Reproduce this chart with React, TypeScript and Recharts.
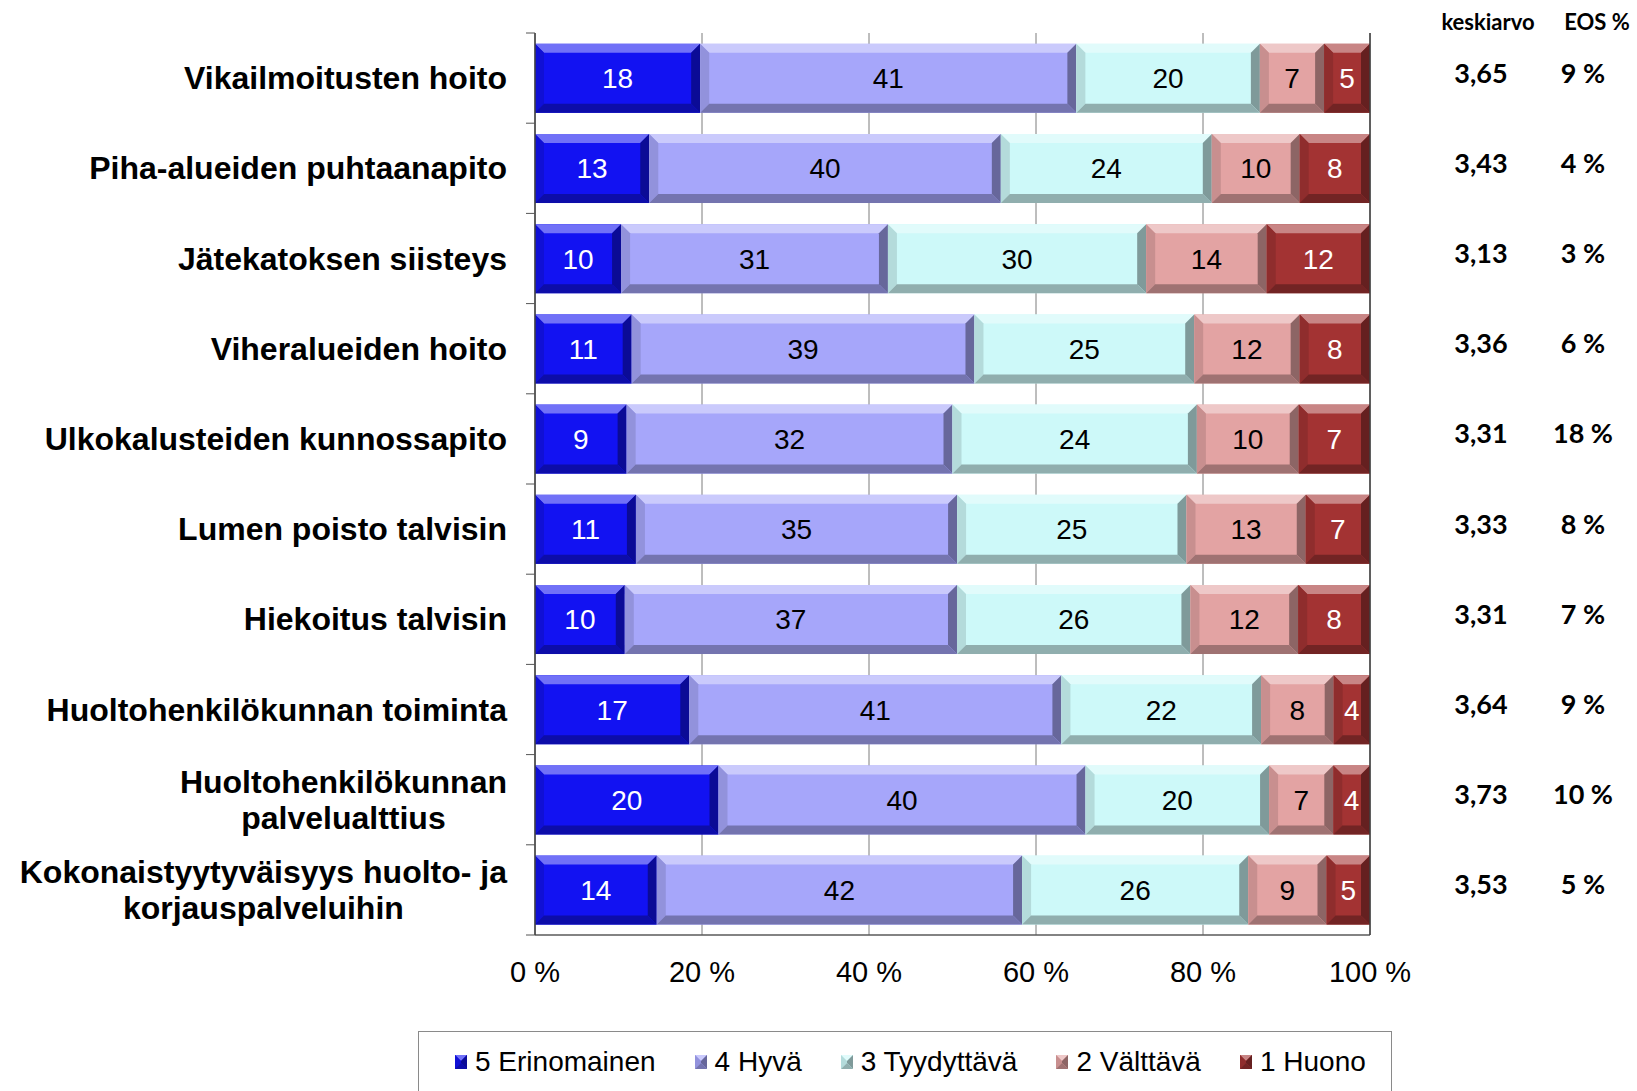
import React from "react";
import { Bar, BarChart, CartesianGrid, LabelList, Legend, XAxis, YAxis } from "recharts";

const categories = [
  "Vikailmoitusten hoito",
  "Piha-alueiden puhtaanapito",
  "Jätekatoksen siisteys",
  "Viheralueiden hoito",
  "Ulkokalusteiden kunnossapito",
  "Lumen poisto talvisin",
  "Hiekoitus talvisin",
  "Huoltohenkilökunnan toiminta",
  "Huoltohenkilökunnan\npalvelualttius",
  "Kokonaistyytyväisyys huolto- ja\nkorjauspalveluihin",
];

const erinomainen = [18, 13, 10, 11, 9, 11, 10, 17, 20, 14];
const hyva = [41, 40, 31, 39, 32, 35, 37, 41, 40, 42];
const tyydyttava = [20, 24, 30, 25, 24, 25, 26, 22, 20, 26];
const valttava = [7, 10, 14, 12, 10, 13, 12, 8, 7, 9];
const huono = [5, 8, 12, 8, 7, 7, 8, 4, 4, 5];

const keskiarvo = ["3,65", "3,43", "3,13", "3,36", "3,31", "3,33", "3,31", "3,64", "3,73", "3,53"];
const eos = [9, 4, 3, 6, 18, 8, 7, 9, 10, 5];

const xTicks = [0, 0.2, 0.4, 0.6, 0.8, 1];

const series = [
  { key: "v5", name: "5 Erinomainen", color: "#1212f2", text: "#ffffff", values: erinomainen },
  { key: "v4", name: "4 Hyvä", color: "#a6a6fa", text: "#000000", values: hyva },
  { key: "v3", name: "3 Tyydyttävä", color: "#cdf9f9", text: "#000000", values: tyydyttava },
  { key: "v2", name: "2 Välttävä", color: "#e3a3a3", text: "#000000", values: valttava },
  { key: "v1", name: "1 Huono", color: "#a33333", text: "#ffffff", values: huono },
];

const data = categories.map((name, i) => {
  const row: Record<string, any> = { name };
  series.forEach((s) => (row[s.key] = s.values[i]));
  return row;
});

const W = 1637;
const H = 1091;
const TOP = 33;
const LEFT_W = 535;
const RIGHT_W = 267;
const LEGEND_H = 60;
const XAXIS_H = 96;
const PLOT_H = H - TOP - LEGEND_H - XAXIS_H;
const BAND = PLOT_H / categories.length;
const FONT = "'Liberation Sans', Arial, sans-serif";

function mix(hex: string, target: number, t: number) {
  const n = parseInt(hex.slice(1), 16);
  const c = [(n >> 16) & 255, (n >> 8) & 255, n & 255].map((v) => Math.round(v + (target - v) * t));
  return `rgb(${c[0]},${c[1]},${c[2]})`;
}

function BevelBar(props: any) {
  const { x, y, width, height, fill } = props;
  if (!width || width <= 0 || !height) return null;
  const b = Math.min(9, width / 2, height / 2);
  const x2 = x + width;
  const y2 = y + height;
  const pts = (arr: number[][]) => arr.map((p) => p.join(",")).join(" ");
  return (
    <g>
      <rect x={x} y={y} width={width} height={height} fill={fill} />
      <polygon points={pts([[x, y], [x2, y], [x2 - b, y + b], [x + b, y + b]])} fill={mix(fill, 255, 0.4)} />
      <polygon points={pts([[x, y], [x + b, y + b], [x + b, y2 - b], [x, y2]])} fill={mix(fill, 0, 0.12)} />
      <polygon points={pts([[x2, y], [x2, y2], [x2 - b, y2 - b], [x2 - b, y + b]])} fill={mix(fill, 0, 0.38)} />
      <polygon points={pts([[x, y2], [x2, y2], [x2 - b, y2 - b], [x + b, y2 - b]])} fill={mix(fill, 0, 0.3)} />
    </g>
  );
}

let measureCtx: CanvasRenderingContext2D | null = null;
function textWidth(s: string, font: string) {
  if (!measureCtx) measureCtx = document.createElement("canvas").getContext("2d");
  if (!measureCtx) return s.length * 16;
  measureCtx.font = font;
  return measureCtx.measureText(s).width;
}

function CategoryTick({ x, y, payload, index }: any) {
  const lines = String(payload.value).split("\n");
  const lh = 36;
  const axisX = x + 28;
  const half = BAND / 2;
  let anchorX = x;
  let anchor = "end";
  if (lines.length > 1) {
    const w = Math.max(...lines.map((l) => textWidth(l, `bold 32px ${FONT}`)));
    anchorX = x - w / 2;
    anchor = "middle";
  }
  return (
    <g>
      <line x1={axisX - 9} x2={axisX} y1={y - half} y2={y - half} stroke="#555" />
      {index === categories.length - 1 && (
        <line x1={axisX - 9} x2={axisX} y1={y + half} y2={y + half} stroke="#555" />
      )}
      {lines.map((l, i) => (
        <text
          key={i}
          x={anchorX}
          y={y + (i - (lines.length - 1) / 2) * lh}
          textAnchor={anchor}
          dominantBaseline="central"
          fontSize={32}
          fontWeight="bold"
          fontFamily={FONT}
          fill="#000"
        >
          {l}
        </text>
      ))}
    </g>
  );
}

function StatsTick({ x, y, index }: any) {
  const font = "Lato, 'Open Sans', sans-serif";
  return (
    <g fontFamily={font} fontWeight="bold" fill="#000">
      {index === 0 && (
        <>
          <text x={x + 118} y={y - 57} textAnchor="middle" dominantBaseline="central" fontSize={22}>
            keskiarvo
          </text>
          <text x={x + 227} y={y - 57} textAnchor="middle" dominantBaseline="central" fontSize={22}>
            EOS %
          </text>
        </>
      )}
      <text x={x + 111} y={y - 6} textAnchor="middle" dominantBaseline="central" fontSize={27}>
        {keskiarvo[index]}
      </text>
      <text x={x + 213} y={y - 6} textAnchor="middle" dominantBaseline="central" fontSize={27}>
        {`${eos[index]} %`}
      </text>
    </g>
  );
}

function LegendBox() {
  return (
    <div
      style={{
        boxSizing: "border-box",
        width: 974,
        height: LEGEND_H,
        border: "1.5px solid #8a8a8a",
        borderBottom: "none",
        display: "flex",
        alignItems: "center",
        paddingLeft: 36,
        gap: 39,
        fontFamily: FONT,
        fontSize: 28,
        color: "#000",
      }}
    >
      {series.map((s) => (
        <div key={s.key} style={{ display: "flex", alignItems: "center", gap: 8 }}>
          <svg width={12} height={14}>
            <BevelBar x={0} y={0} width={12} height={14} fill={s.color} />
          </svg>
          <span>{s.name}</span>
        </div>
      ))}
    </div>
  );
}

export default function App() {
  return (
    <div style={{ position: "absolute", left: 0, top: 0, width: W, height: H, background: "#fff", fontFamily: FONT }}>
      <BarChart
        width={W}
        height={H}
        data={data}
        layout="vertical"
        stackOffset="expand"
        barCategoryGap="12%"
        margin={{ top: TOP, right: 0, left: 0, bottom: 0 }}
      >
        <CartesianGrid horizontal={false} stroke="#7c7c7c" />
        <XAxis
          type="number"
          domain={[0, 1]}
          ticks={xTicks}
          tickFormatter={(v) => `${Math.round(v * 100)} %`}
          tick={{ fontSize: 29, fill: "#000", fontFamily: FONT }}
          tickLine={false}
          tickSize={0}
          tickMargin={26}
          height={XAXIS_H}
          axisLine={{ stroke: "#5a5a5a", strokeWidth: 1.5 }}
        />
        <XAxis
          xAxisId="top"
          orientation="top"
          type="number"
          domain={[0, 1]}
          tick={false}
          tickLine={false}
          height={0}
          axisLine={{ stroke: "#404040", strokeWidth: 1.5 }}
        />
        <YAxis
          type="category"
          dataKey="name"
          width={LEFT_W}
          tick={<CategoryTick />}
          tickLine={false}
          tickSize={0}
          tickMargin={28}
          interval={0}
          axisLine={{ stroke: "#404040", strokeWidth: 1.5 }}
        />
        <YAxis
          yAxisId="right"
          orientation="right"
          type="category"
          dataKey="name"
          width={RIGHT_W}
          tick={<StatsTick />}
          tickLine={false}
          tickSize={0}
          tickMargin={0}
          interval={0}
          axisLine={{ stroke: "#404040", strokeWidth: 1.5 }}
        />
        <Legend
          verticalAlign="bottom"
          content={() => <LegendBox />}
          wrapperStyle={{ left: 418, width: 974, height: LEGEND_H }}
        />
        {series.map((s) => (
          <Bar
            key={s.key}
            dataKey={s.key}
            name={s.name}
            stackId="a"
            fill={s.color}
            shape={<BevelBar />}
            isAnimationActive={false}
          >
            <LabelList
              dataKey={s.key}
              position="center"
              fill={s.text}
              fontSize={28}
              fontFamily={FONT}
            />
          </Bar>
        ))}
      </BarChart>
    </div>
  );
}
